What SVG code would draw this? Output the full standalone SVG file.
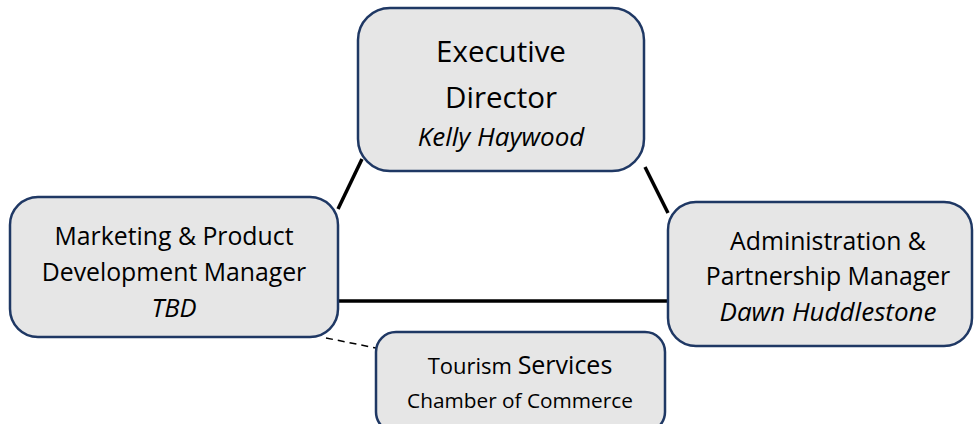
<svg xmlns="http://www.w3.org/2000/svg" width="974" height="424" viewBox="0 0 974 424">
<style>
.box{fill:#e6e6e6;stroke:#1f3864;stroke-width:2.5}
text{font-family:"Open Sans","Noto Sans",sans-serif;fill:#000;text-anchor:middle}
.it{font-style:italic}
.ln{stroke:#000;stroke-width:3.5;fill:none}
.dash{stroke:#000;stroke-width:1.5;stroke-dasharray:7,5;fill:none}
</style>
<rect width="974" height="424" fill="#fff"/>
<g id="connectors">
<line class="ln" x1="338" y1="209" x2="362" y2="159"/>
<line class="ln" x1="645" y1="167" x2="668" y2="213"/>
<line class="ln" x1="338" y1="301" x2="668" y2="301"/>
<line class="dash" x1="326" y1="338" x2="376" y2="348"/>
</g>
<g id="exec">
<rect class="box" x="358" y="8" width="286" height="163" rx="32"/>
<text x="501" y="62" font-size="29.5">Executive</text>
<text x="501" y="108" font-size="29.5">Director</text>
<text class="it" x="501" y="146" font-size="26">Kelly Haywood</text>
</g>
<g id="marketing">
<rect class="box" x="10" y="197" width="328" height="140" rx="28"/>
<text x="174" y="245" font-size="24.8">Marketing &amp; Product</text>
<text x="174" y="281" font-size="24.8">Development Manager</text>
<text class="it" x="174" y="317" font-size="25.5">TBD</text>
</g>
<g id="admin">
<rect class="box" x="668" y="202" width="304" height="144" rx="28"/>
<text x="828" y="250" font-size="24.8">Administration &amp;</text>
<text x="828" y="285" font-size="24.8">Partnership Manager</text>
<text class="it" x="828" y="321" font-size="26">Dawn Huddlestone</text>
</g>
<g id="tourism">
<rect class="box" x="376" y="332" width="289" height="100" rx="20"/>
<text x="520" y="374"><tspan font-size="22">Tourism </tspan><tspan font-size="25">Services</tspan></text>
<text x="520" y="408" font-size="20.8">Chamber of Commerce</text>
</g>
</svg>
